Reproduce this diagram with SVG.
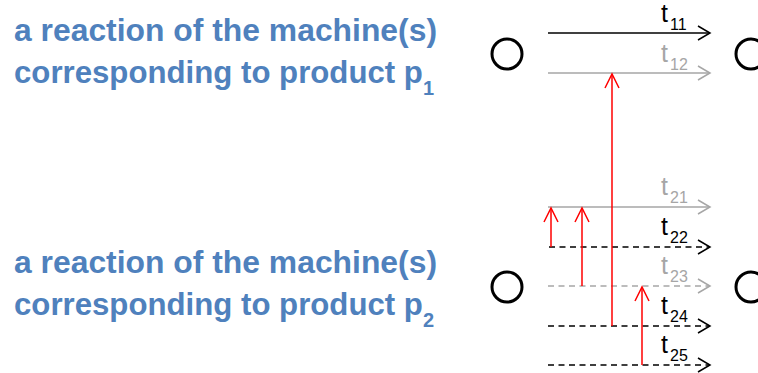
<svg xmlns="http://www.w3.org/2000/svg" width="758" height="373" viewBox="0 0 758 373">
<style>
.lbl{font-family:"Liberation Sans",Arial,sans-serif;font-weight:bold;font-size:32px;fill:#4F81BD}
.lbl2{font-family:"Liberation Sans",Arial,sans-serif;font-weight:bold;font-size:31.2px;fill:#4F81BD}
.lsub{font-size:20px}
.t{font-family:"Liberation Sans",Arial,sans-serif;font-size:25px}
.ts{font-family:"Liberation Sans",Arial,sans-serif;font-size:16px}
.blk{fill:#000}
.gry{fill:#A6A6A6}
.state{fill:none;stroke:#000;stroke-width:3}
.lb{stroke:#000;stroke-width:1.5;fill:none}
.lg{stroke:#A6A6A6;stroke-width:1.5;fill:none}
.dash{stroke-dasharray:6 4.5}
.lr{stroke:#FF0000;stroke-width:1.5;fill:none}
</style>
<defs>
<marker id="ab" markerUnits="userSpaceOnUse" markerWidth="20" markerHeight="20" refX="0" refY="0" viewBox="-14 -10 16 20" orient="auto" overflow="visible">
<path d="M-12,-7 L0,0 L-12,7" fill="none" stroke="#000" stroke-width="1.5"/>
</marker>
<marker id="ag" markerUnits="userSpaceOnUse" markerWidth="20" markerHeight="20" refX="0" refY="0" viewBox="-14 -10 16 20" orient="auto" overflow="visible">
<path d="M-12,-7 L0,0 L-12,7" fill="none" stroke="#A6A6A6" stroke-width="1.5"/>
</marker>
<marker id="ar" markerUnits="userSpaceOnUse" markerWidth="20" markerHeight="20" refX="0" refY="0" viewBox="-16 -10 18 20" orient="auto" overflow="visible">
<path d="M-14,-7 L0,0 L-14,7" fill="none" stroke="#FF0000" stroke-width="1.5"/>
</marker>
</defs>

<g id="label-p1">
<text class="lbl" x="14" y="41" textLength="423" lengthAdjust="spacingAndGlyphs">a reaction of the machine(s)</text>
<text class="lbl2" x="14" y="83">corresponding to product p<tspan class="lsub" dx="0" dy="12">1</tspan></text>
</g>
<g id="label-p2">
<text class="lbl" x="14" y="273" textLength="423" lengthAdjust="spacingAndGlyphs">a reaction of the machine(s)</text>
<text class="lbl2" x="14" y="315">corresponding to product p<tspan class="lsub" dx="0" dy="12">2</tspan></text>
</g>

<g id="state-p1-left"><circle class="state" cx="507" cy="54" r="15"/></g>
<g id="state-p1-right"><circle class="state" cx="751" cy="54" r="15"/></g>
<g id="state-p2-left"><circle class="state" cx="507" cy="287" r="15"/></g>
<g id="state-p2-right"><circle class="state" cx="751" cy="287" r="15"/></g>

<g id="connectors">
<line id="t11" class="lb" x1="548" y1="33" x2="710" y2="33" marker-end="url(#ab)"/>
<line id="t12" class="lg" x1="548" y1="73" x2="710" y2="73" marker-end="url(#ag)"/>
<line id="t21" class="lg" x1="548" y1="207" x2="710" y2="207" marker-end="url(#ag)"/>
<line id="t22" class="lb dash" x1="549" y1="247" x2="710" y2="247" marker-end="url(#ab)"/>
<line id="t23" class="lg dash" x1="548" y1="286" x2="710" y2="286" marker-end="url(#ag)"/>
<line id="t24" class="lb dash" x1="548" y1="326" x2="710" y2="326" marker-end="url(#ab)"/>
<line id="t25" class="lb dash" x1="548" y1="365" x2="710" y2="365" marker-end="url(#ab)"/>
<line class="lr" x1="551" y1="247" x2="551" y2="208" marker-end="url(#ar)"/>
<line class="lr" x1="582" y1="286" x2="582" y2="208" marker-end="url(#ar)"/>
<line class="lr" x1="612" y1="326" x2="612" y2="74" marker-end="url(#ar)"/>
<line class="lr" x1="642" y1="365" x2="642" y2="287" marker-end="url(#ar)"/>
</g>

<g id="transition-labels">
<text class="t blk" x="661" y="22">t</text><text class="ts blk" x="670" y="30">11</text>
<text class="t gry" x="661" y="62">t</text><text class="ts gry" x="670" y="70">12</text>
<text class="t gry" x="661" y="195">t</text><text class="ts gry" x="670" y="203">21</text>
<text class="t blk" x="661" y="235">t</text><text class="ts blk" x="670" y="243">22</text>
<text class="t gry" x="661" y="274">t</text><text class="ts gry" x="670" y="282">23</text>
<text class="t blk" x="661" y="314">t</text><text class="ts blk" x="670" y="322">24</text>
<text class="t blk" x="661" y="353">t</text><text class="ts blk" x="670" y="361">25</text>
</g>
</svg>
